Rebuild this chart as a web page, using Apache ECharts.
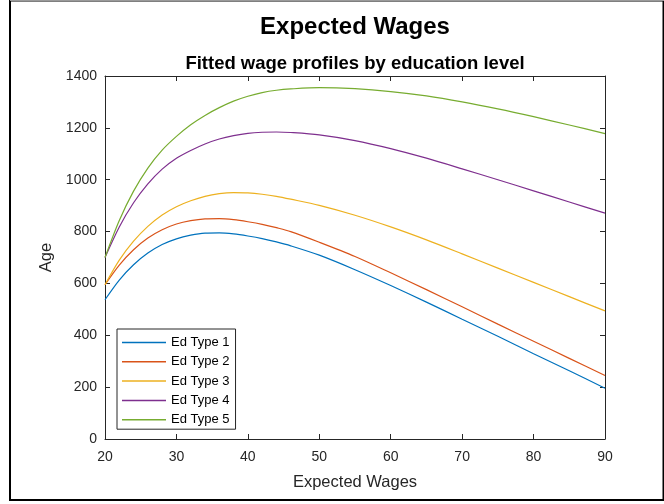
<!DOCTYPE html>
<html>
<head>
<meta charset="utf-8">
<script src="https://cdn.jsdelivr.net/npm/echarts@6/dist/echarts.min.js"></script>
<style>
  html, body { margin: 0; padding: 0; background: #fff; }
  #chart { width: 664px; height: 504px; }
</style>
</head>
<body>
<div id="chart"></div>
<script>
// Sample points along each fitted profile
const ages = [20, 22, 24, 26, 28, 30, 32, 34, 36, 38, 40, 42, 44, 46, 50, 55, 60, 65, 70, 75, 80, 85, 90];
const edType1 = [537, 613, 672, 717, 750, 772, 786, 794, 795, 791, 783, 773, 760, 745, 709, 653, 592, 528, 462, 396, 329, 263, 196];
const edType2 = [595, 671, 730, 775, 807, 829, 842, 849, 850, 846, 838, 828, 815, 800, 759, 704, 641, 576, 510, 443, 377, 311, 245];
const edType3 = [595, 690, 763, 820, 864, 896, 919, 936, 946, 950, 949, 944, 936, 925, 901, 863, 818, 768, 714, 659, 604, 549, 494];
const edType4 = [700, 818, 911, 984, 1041, 1083, 1113, 1138, 1157, 1170, 1179, 1183, 1184, 1182, 1173, 1151, 1120, 1083, 1042, 1000, 957, 914, 871];
const edType5 = [700, 843, 956, 1045, 1114, 1167, 1212, 1248, 1278, 1303, 1322, 1336, 1345, 1350, 1355, 1351, 1340, 1323, 1300, 1273, 1243, 1211, 1178];

const seriesNames = ['Ed Type 1', 'Ed Type 2', 'Ed Type 3', 'Ed Type 4', 'Ed Type 5'];
const seriesValues = [edType1, edType2, edType3, edType4, edType5];
const colors = ['#0072BD', '#D95319', '#EDB120', '#7E2F8E', '#77AC30'];

const xTicks = { min: 20, max: 90, interval: 10 };
const yTicks = { min: 0, max: 1400, interval: 200 };

const axisColor = '#262626';
const font = 'Liberation Sans, Arial, Helvetica, sans-serif';

const chart = echarts.init(document.getElementById('chart'), null, { renderer: 'canvas' });

// Boxed axes: ticks point inward on all four sides
function boxAxis(base, extra) {
  return Object.assign({
    type: 'value',
    min: base.min, max: base.max, interval: base.interval,
    splitLine: { show: false },
    axisLine: { show: true, onZero: false, lineStyle: { color: axisColor, width: 1 } },
    axisTick: { show: true, inside: true, length: 5, lineStyle: { color: axisColor, width: 1 } },
    axisLabel: { show: false }
  }, extra);
}

const plainNumber = v => String(v);

const option = {
  animation: false,
  backgroundColor: '#ffffff',
  title: [
    {
      text: 'Expected Wages',
      left: 350, top: 10, textAlign: 'center',
      textStyle: { fontFamily: font, fontSize: 24, fontWeight: 'bold', color: '#000' }
    },
    {
      text: 'Fitted wage profiles by education level',
      left: 350, top: 49, textAlign: 'center',
      textStyle: { fontFamily: font, fontSize: 18.5, fontWeight: 'bold', color: '#000' }
    }
  ],
  grid: { left: 105, top: 76, width: 500, height: 363, containLabel: false },
  xAxis: [
    boxAxis(xTicks, {
      position: 'bottom',
      axisLabel: { show: true, margin: 11, fontFamily: font, fontSize: 14, color: axisColor, formatter: plainNumber },
      name: 'Expected Wages', nameLocation: 'middle', nameGap: 35,
      nameTextStyle: { fontFamily: font, fontSize: 16.5, color: axisColor }
    }),
    boxAxis(xTicks, { position: 'top' })
  ],
  yAxis: [
    boxAxis(yTicks, {
      position: 'left',
      axisLabel: { show: true, margin: 8, fontFamily: font, fontSize: 14, color: axisColor, formatter: plainNumber },
      name: 'Age', nameLocation: 'middle', nameGap: 43,
      nameTextStyle: { fontFamily: font, fontSize: 16.5, color: axisColor }
    }),
    boxAxis(yTicks, { position: 'right' })
  ],
  legend: {
    orient: 'vertical',
    left: 117, top: 329,
    backgroundColor: '#ffffff',
    borderColor: axisColor, borderWidth: 1, borderRadius: 0,
    padding: [6, 6, 2, 5],
    itemWidth: 44, itemHeight: 1.5, itemGap: 4.3,
    icon: 'rect',
    textStyle: { fontFamily: font, fontSize: 13, color: '#000', lineHeight: 15 },
    data: seriesNames
  },
  series: seriesNames.map((name, i) => ({
    name: name,
    type: 'line',
    data: ages.map((a, j) => [a, seriesValues[i][j]]),
    smooth: 0.3,
    showSymbol: false,
    symbol: 'none',
    color: colors[i],
    lineStyle: { color: colors[i], width: 1.2 }
  })),
  graphic: [
    {
      type: 'polyline',
      shape: { points: [[664, 0.5], [10, 0.5], [10, 500], [663.5, 500], [663.5, 0]] },
      style: { stroke: '#000', lineWidth: 2, fill: null },
      silent: true
    },
    {
      type: 'line',
      shape: { x1: 10, y1: 0.5, x2: 664, y2: 0.5 },
      style: { stroke: '#9a9a9a', lineWidth: 1 },
      silent: true
    }
  ]
};

chart.setOption(option);
</script>
</body>
</html>
